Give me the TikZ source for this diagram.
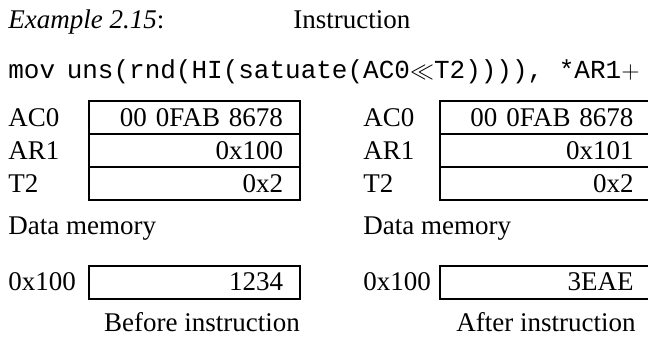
\documentclass[tikz,border=0pt]{standalone}
\usepackage{fontspec}
\setmainfont{Liberation Serif}
\setmonofont{Liberation Mono}
\usetikzlibrary{positioning}

\begin{document}
\begin{tikzpicture}[x=0.5pt, y=-0.5pt,
    every node/.style={inner sep=0pt, font=\fontsize{13.5}{16}\selectfont},
    reg/.style={draw, line width=1pt, outer sep=0pt, minimum height=16.5pt, text width=88.5pt, align=right, inner xsep=8.5pt, inner ysep=0pt},
    lbl/.style={anchor=west}]
    \useasboundingbox (0,0) rectangle (648,343);

    % heading and instruction
    \node[anchor=base west] (ex) at (8,28) {\textit{Example 2.15}:};
    \node[anchor=base west] (ins) at (293,28) {Instruction};
    \node[anchor=base west, font=\fontsize{13}{16}\ttfamily] (code) at (8,78) {mov\hspace{-2pt} uns(rnd(HI(satuate(AC0$\ll$T2)))), *AR1$+$};

    % before
    \node[reg] (acA) at (194.5,117.5) {00 0FAB 8678};
    \node[reg, below=0pt of acA] (arA) {0x100};
    \node[reg, below=0pt of arA] (tA) {0x2};
    \node[lbl] (acAl) at (8,117.5) {AC0};
    \node[lbl] (arAl) at (8,150.5) {AR1};
    \node[lbl] (tAl) at (8,183.5) {T2};
    \node[anchor=base west] (dmA) at (8,234) {Data memory};
    \node[reg] (memA) at (194.5,282) {1234};
    \node[lbl] (adA) at (8,282) {0x100};
    \node[anchor=base] (capA) at (202,331) {Before instruction};

    % after
    \node[reg] (acB) at (545,117.5) {00 0FAB 8678};
    \node[reg, below=0pt of acB] (arB) {0x101};
    \node[reg, below=0pt of arB] (tB) {0x2};
    \node[lbl] (acBl) at (363,117.5) {AC0};
    \node[lbl] (arBl) at (363,150.5) {AR1};
    \node[lbl] (tBl) at (363,183.5) {T2};
    \node[anchor=base west] (dmB) at (363,234) {Data memory};
    \node[reg] (memB) at (545,282) {3EAE};
    \node[lbl] (adB) at (363,282) {0x100};
    \node[anchor=base] (capB) at (546,331) {After instruction};
\end{tikzpicture}
\end{document}
